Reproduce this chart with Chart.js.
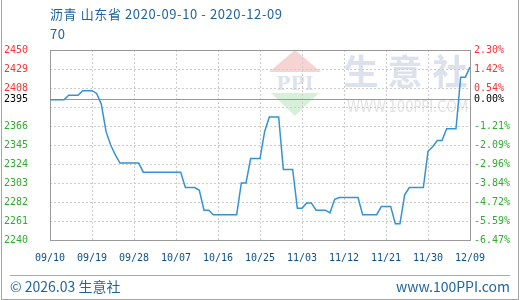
<!DOCTYPE html>
<html>
<head>
<meta charset="utf-8">
<script src="https://cdn.jsdelivr.net/npm/chart.js@4/dist/chart.umd.min.js"></script>
<style>
html,body{margin:0;padding:0;background:#fff;}
#wrap{position:relative;width:520px;height:300px;overflow:hidden;background:#fff;}
#c{position:absolute;left:0;top:0;}
#outer{position:absolute;left:1px;top:-1px;width:516px;height:299px;border:1px solid #a6a6a6;box-sizing:content-box;pointer-events:none;}
.txt{position:absolute;white-space:nowrap;font-family:"Noto Sans CJK SC","Noto Sans",sans-serif;color:#1f659b;}
#title{left:50px;top:6px;font-size:13px;line-height:16px;letter-spacing:0.6px;}
#unit{left:50px;top:26px;font-size:13px;line-height:16px;letter-spacing:0.6px;}
#sep{position:absolute;left:10px;top:275px;width:500px;height:1px;background:#a8a8a8;}
#copy{left:10px;top:277px;font-size:14px;line-height:18px;}
#site{right:10px;top:277px;font-size:14px;line-height:18px;}
</style>
</head>
<body>
<div id="wrap">
<canvas id="c" width="520" height="300"></canvas>
<div id="outer"></div>
<div class="txt" id="title">沥青 山东省 2020-09-10 - 2020-12-09</div>
<div class="txt" id="unit">70</div>
<div id="sep"></div>
<div class="txt" id="copy">© 2026.03 生意社</div>
<div class="txt" id="site">www.100PPI.com</div>
</div>
<script>
// ---- data ----
const startDate = '2020-09-10';
const dayCount = 91;
const xTickLabels = ['09/10','09/19','09/28','10/07','10/16','10/25','11/03','11/12','11/21','11/30','12/09'];
const asphaltPrice = [
  2395,2395,2395,2395,2400,2400,2400,2405,2405,2405,
  2402,2390,2360,2345,2334,2325,2325,2325,2325,2325,
  2315,2315,2315,2315,2315,2315,2315,2315,2315,2298,
  2298,2298,2295,2273,2273,2268,2268,2268,2268,2268,
  2268,2303,2303,2330,2330,2330,2360,2376,2376,2376,
  2318,2318,2318,2275,2275,2281,2281,2273,2273,2273,
  2270,2285,2287,2287,2287,2287,2287,2268,2268,2268,
  2268,2277,2277,2277,2258,2258,2290,2298,2298,2298,
  2298,2338,2343,2350,2350,2363,2363,2363,2420,2420,
  2431
];
const basePrice = 2395;
const gridValues = [2450,2429,2408,2387,2366,2345,2324,2303,2282,2261,2240];
const leftTickLabels = ['2450','2429','2408','2395','2366','2345','2324','2303','2282','2261','2240'];
const rightTickLabels = ['2.30%','1.42%','0.54%','0.00%','-1.21%','-2.09%','-2.96%','-3.84%','-4.72%','-5.59%','-6.47%'];

// categories (one per calendar day)
const categories = [];
{
  const d0 = new Date(startDate + 'T00:00:00Z');
  for (let i = 0; i < dayCount; i++) {
    const d = new Date(d0.getTime() + i * 86400000);
    categories.push(String(d.getUTCMonth()+1).padStart(2,'0') + '/' + String(d.getUTCDate()).padStart(2,'0'));
  }
}
const tickValues = gridValues.concat([basePrice]).sort((a,b)=>b-a);
const RED = '#ff3030', GREEN = '#33aa33', BLACK = '#000000';
function labelColor(v){ return v > basePrice ? RED : (v < basePrice ? GREEN : BLACK); }
function labelIndex(v){ return leftTickLabels.indexOf(String(v)); }

const decor = {
  id: 'decor',
  beforeDraw(chart) {
    const ctx = chart.ctx;
    ctx.save();
    // watermark logo
    ctx.fillStyle = 'rgba(246,205,205,0.85)';
    ctx.beginPath(); ctx.moveTo(295,50); ctx.lineTo(321,72); ctx.lineTo(269,72); ctx.closePath(); ctx.fill();
    ctx.fillStyle = 'rgba(210,238,214,0.9)';
    ctx.beginPath(); ctx.moveTo(271,93); ctx.lineTo(319,93); ctx.lineTo(295,116); ctx.closePath(); ctx.fill();
    ctx.fillStyle = '#dfe3ee';
    ctx.font = 'bold 19px "DejaVu Serif", serif';
    ctx.textAlign = 'center'; ctx.textBaseline = 'alphabetic';
    ctx.fillText('PPI', 295, 90);
    ctx.font = 'bold 35px "Noto Sans CJK SC", sans-serif';
    ctx.fillStyle = '#dde1ec';
    ctx.fillText('生', 361, 85);
    ctx.fillText('意', 405, 85);
    ctx.fillText('社', 450, 85);
    ctx.font = '16px "DejaVu Sans", sans-serif';
    ctx.fillStyle = '#e3e3e3';
    const s = 'WWW.100PPI.COM';
    const w = ctx.measureText(s).width;
    ctx.translate(347, 112);
    ctx.scale(121 / w, 1);
    ctx.textAlign = 'left';
    ctx.fillText(s, 0, 0);
    ctx.restore();
  },
  beforeDatasetsDraw(chart) {
    const {ctx, chartArea: a, scales: {y}} = chart;
    ctx.save();
    ctx.strokeStyle = '#999999';
    ctx.lineWidth = 1;
    ctx.setLineDash([]);
    const by = Math.floor(y.getPixelForValue(basePrice)) + 0.5;
    ctx.beginPath(); ctx.moveTo(a.left, by); ctx.lineTo(a.right, by); ctx.stroke();
    ctx.strokeRect(Math.round(a.left) + 0.5, Math.round(a.top) + 0.5,
                   Math.round(a.right - a.left), Math.round(a.bottom - a.top));
    ctx.restore();
  }
};

const tickFont = {family: '"DejaVu Sans Mono", monospace', size: 10};

new Chart(document.getElementById('c'), {
  type: 'line',
  data: {
    labels: categories,
    datasets: [{
      data: asphaltPrice,
      borderColor: '#3592d4',
      borderWidth: 1.5,
      pointRadius: 0,
      tension: 0,
      fill: false
    }]
  },
  options: {
    responsive: false,
    animation: false,
    devicePixelRatio: 1,
    layout: {padding: {top: 50, left: 0, right: 0, bottom: 0}},
    plugins: {legend: {display: false}, tooltip: {enabled: false}, title: {display: false}},
    scales: {
      x: {
        type: 'category',
        offset: false,
        afterFit(s) { s.height = 60; },
        border: {display: false, dash: [2,2]},
        grid: {drawTicks: false, color: '#cccccc', lineWidth: 1},
        ticks: {
          autoSkip: false, maxRotation: 0, minRotation: 0, padding: 12,
          color: '#0e4f86', font: tickFont,
          callback(val, idx) { return idx % 9 === 0 ? xTickLabels[idx / 9] : null; }
        }
      },
      y: {
        position: 'left',
        min: 2240, max: 2450,
        afterFit(s) { s.width = 50; },
        afterBuildTicks(s) { s.ticks = tickValues.map(v => ({value: v})); },
        border: {display: false, dash: [2,2]},
        grid: {
          drawTicks: false,
          color(c) { return c.tick && c.tick.value === basePrice ? 'rgba(0,0,0,0)' : '#cccccc'; }
        },
        ticks: {
          padding: 22, font: tickFont,
          color(c) { return labelColor(c.tick.value); },
          callback(v) { const i = labelIndex(v); return i >= 0 ? leftTickLabels[i] : ''; }
        }
      },
      y2: {
        position: 'right',
        min: 2240, max: 2450,
        afterFit(s) { s.width = 50; },
        afterBuildTicks(s) { s.ticks = tickValues.map(v => ({value: v})); },
        border: {display: false},
        grid: {display: false, drawTicks: false},
        ticks: {
          padding: 4, font: tickFont,
          color(c) { return labelColor(c.tick.value); },
          callback(v) { const i = labelIndex(v); return i >= 0 ? rightTickLabels[i] : ''; }
        }
      }
    }
  },
  plugins: [decor]
});
</script>
</body>
</html>
